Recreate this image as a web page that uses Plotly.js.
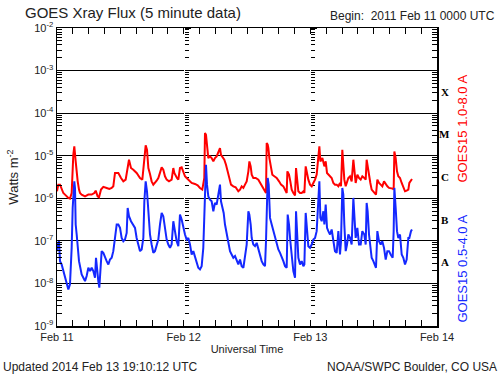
<!DOCTYPE html>
<html>
<head>
<meta charset="utf-8">
<script src="https://cdn.plot.ly/plotly-3.0.1.min.js"></script>
<style>html,body{margin:0;padding:0;background:#fff;}#chart{width:500px;height:375px;}</style>
</head>
<body>
<div id="chart"></div>
<script>
// Hours after 2011 Feb 11 00:00 UTC and flux (W m^-2)
var longHours = [0,0.25,0.57,0.88,1.20,1.52,1.83,2.15,2.46,2.78,3.09,3.28,3.54,3.73,3.92,4.17,4.36,4.67,5.31,5.94,6.57,7.07,7.33,7.70,7.96,8.34,8.78,9.41,9.92,10.36,10.67,10.99,11.62,12.13,12.57,13.01,13.39,13.64,14.02,14.46,15.09,15.73,16.17,16.55,16.80,17.05,17.31,17.62,17.93,18.25,18.56,18.88,19.20,19.51,19.83,20.14,20.46,20.78,21.22,21.72,22.04,22.23,22.48,22.73,22.99,23.30,23.62,23.93,24.25,24.56,24.88,25.51,26.14,26.65,27.09,27.53,27.91,28.04,28.23,28.42,28.67,28.99,29.30,29.62,29.93,30.25,30.56,30.88,31.07,31.32,31.70,32.02,32.33,32.59,32.97,33.41,33.85,34.35,34.68,34.99,35.31,35.62,35.94,36.26,36.45,36.70,36.89,37.20,37.65,38.15,38.47,38.78,39.10,39.41,39.60,39.73,39.92,40.05,40.24,40.55,40.80,41.18,41.62,42.07,42.45,42.89,43.20,43.52,43.65,43.96,44.21,44.47,44.78,45.10,45.29,45.48,45.73,46.05,46.36,46.68,46.87,47.12,47.37,47.62,47.94,48.26,48.57,48.89,49.20,49.52,49.71,49.90,50.28,50.66,50.91,51.16,51.41,51.73,52.04,52.36,52.67,52.99,53.31,53.62,53.81,54.06,54.25,54.44,54.70,54.95,55.20,55.52,55.83,56.15,56.34,56.59,56.91,57.22,57.54,57.85,58.23,58.49,58.67,58.86,59.12,59.37,59.62,59.94,60.25,60.44,60.70,61.01,61.33,61.64,61.96,62.28,62.59,62.91,63.22,63.60,63.79,63.92,64.17,64.42,64.67,64.99,65.31,65.62,65.94,66.25,66.57,66.76,67.07,67.26];
var longFlux = [1.46e-6,2.09e-6,2.09e-6,1.75e-6,1.33e-6,1.22e-6,1.11e-6,1.02e-6,9.8e-7,1.33e-6,1.05e-5,1.66e-5,7.36e-6,3.59e-6,2.5e-6,1.6e-6,1.33e-6,1.22e-6,1.11e-6,1.22e-6,1.22e-6,1.33e-6,1.51e-6,1.11e-6,1.05e-6,1.6e-6,1.85e-6,1.75e-6,1.66e-6,1.75e-6,1.91e-6,3.93e-6,3.93e-6,3.0e-6,2.5e-6,2.74e-6,6.15e-6,8.05e-6,5.14e-6,4.7e-6,3.93e-6,3.0e-6,2.74e-6,1.05e-5,1.75e-5,1.38e-5,5.14e-6,3.72e-6,2.5e-6,2.09e-6,2.29e-6,2.59e-6,3.0e-6,4.3e-6,5.33e-6,4.7e-6,3.28e-6,2.74e-6,2.5e-6,2.74e-6,5.14e-6,3.93e-6,3.28e-6,3.0e-6,2.74e-6,5.14e-6,5.33e-6,4.3e-6,3.28e-6,3.0e-6,2.74e-6,2.29e-6,2.17e-6,2.02e-6,1.75e-6,1.6e-6,3.0e-6,3.4e-5,3.1e-5,1.81e-5,8.81e-6,9.64e-6,8.81e-6,7.36e-6,8.81e-6,9.64e-6,1.26e-5,1.51e-5,1.05e-5,9.64e-6,8.05e-6,6.15e-6,4.3e-6,3.0e-6,2.09e-6,1.91e-6,1.81e-6,1.46e-6,1.6e-6,1.91e-6,1.75e-6,2.09e-6,2.5e-6,4.3e-6,7.36e-6,5.62e-6,3.59e-6,3.0e-6,3.0e-6,2.74e-6,2.29e-6,1.91e-6,1.6e-6,1.46e-6,1.33e-6,1.98e-5,1.81e-5,1.51e-5,8.81e-6,5.14e-6,3.59e-6,3.28e-6,3.0e-6,2.5e-6,2.09e-6,1.91e-6,1.6e-6,1.33e-6,4.3e-6,3.59e-6,2.5e-6,1.6e-6,1.33e-6,1.17e-6,5.14e-6,3.0e-6,1.46e-6,1.33e-6,1.33e-6,1.46e-6,1.33e-6,5.62e-6,3.59e-6,2.74e-6,2.09e-6,1.91e-6,2.29e-6,2.74e-6,3.59e-6,8.81e-6,1.66e-5,7.36e-6,8.81e-6,5.62e-6,7.36e-6,3.93e-6,3.59e-6,3.28e-6,3.0e-6,2.29e-6,2.09e-6,2.09e-6,1.91e-6,2.29e-6,1.91e-6,1.38e-5,6.15e-6,2.74e-6,1.91e-6,2.29e-6,3.0e-6,3.28e-6,2.5e-6,8.05e-6,4.3e-6,2.29e-6,3.59e-6,3.0e-6,2.74e-6,3.28e-6,3.0e-6,2.74e-6,8.05e-6,5.62e-6,3.0e-6,2.29e-6,1.6e-6,1.46e-6,1.33e-6,1.22e-6,2.74e-6,2.29e-6,2.09e-6,1.91e-6,2.5e-6,2.09e-6,1.91e-6,1.75e-6,1.75e-6,1.69e-6,1.6e-6,1.26e-5,8.81e-6,4.3e-6,3.28e-6,3.0e-6,2.29e-6,1.75e-6,1.46e-6,1.51e-6,1.6e-6,2.29e-6,2.74e-6,2.84e-6];

var shortHours = [0,0.13,0.38,0.57,0.88,1.20,1.52,1.83,2.15,2.46,2.65,2.78,2.97,3.09,3.28,3.41,3.54,3.73,3.92,4.17,4.42,4.67,4.99,5.31,5.62,5.94,6.25,6.57,6.88,7.20,7.39,7.64,7.83,8.02,8.21,8.46,8.78,9.10,9.41,9.73,10.04,10.36,10.67,10.99,11.31,11.62,11.94,12.25,12.57,12.88,13.20,13.39,13.64,14.02,14.46,14.78,15.09,15.41,15.73,16.04,16.36,16.55,16.80,17.05,17.31,17.62,17.93,18.25,18.56,18.88,19.20,19.51,19.83,20.14,20.46,20.78,21.09,21.41,21.72,22.04,22.35,22.67,22.99,23.30,23.62,23.93,24.25,24.56,24.88,25.20,25.51,25.83,26.14,26.46,26.77,27.09,27.41,27.72,27.91,28.04,28.23,28.42,28.67,28.99,29.30,29.62,29.93,30.25,30.56,30.88,31.07,31.32,31.58,31.83,32.14,32.46,32.78,33.09,33.41,33.73,34.04,34.36,34.68,34.99,35.31,35.62,35.94,36.26,36.45,36.70,36.89,37.20,37.52,37.84,38.15,38.47,38.78,39.10,39.41,39.60,39.73,39.92,40.11,40.36,40.68,40.99,41.31,41.62,41.94,42.26,42.57,42.89,43.20,43.52,43.71,43.96,44.21,44.47,44.78,45.10,45.29,45.48,45.73,46.05,46.36,46.68,46.87,47.12,47.37,47.62,47.94,48.26,48.57,48.89,49.20,49.52,49.71,49.90,50.15,50.47,50.66,50.91,51.16,51.41,51.73,52.04,52.36,52.67,52.99,53.31,53.62,53.81,54.06,54.25,54.44,54.70,54.95,55.20,55.52,55.83,56.15,56.34,56.59,56.91,57.22,57.54,57.85,58.23,58.49,58.67,58.86,59.12,59.37,59.62,59.94,60.25,60.44,60.70,61.01,61.33,61.64,61.96,62.28,62.59,62.91,63.22,63.60,63.79,63.92,64.17,64.42,64.67,64.99,65.31,65.62,65.94,66.25,66.57,66.76,67.07,67.26];
var shortFlux = [5.73e-8,8.2e-8,9.8e-8,3.34e-8,2.79e-8,1.95e-8,1.49e-8,1.13e-8,7.24e-9,9.5e-9,2.79e-8,6.86e-8,5.93e-7,1.46e-6,2.5e-6,1.75e-6,2.42e-7,1.41e-7,5.73e-8,3.34e-8,2.33e-8,1.63e-8,1.36e-8,1.13e-8,1.49e-8,2.33e-8,1.95e-8,2.33e-8,1.95e-8,1.36e-8,4.0e-8,1.63e-8,1.13e-8,7.94e-9,2.79e-8,5.73e-8,5.24e-8,4.0e-8,3.34e-8,2.79e-8,3.65e-8,4.0e-8,5.73e-8,1.17e-7,2.42e-7,2.42e-7,2.02e-7,1.17e-7,9.8e-8,1.07e-7,1.54e-7,5.93e-7,3.79e-7,2.89e-7,2.42e-7,2.02e-7,1.17e-7,8.2e-8,5.73e-8,6.27e-8,1.17e-7,8.51e-7,2.5e-6,1.46e-6,4.95e-7,1.41e-7,8.2e-8,5.24e-8,5.73e-8,8.2e-8,1.07e-7,2.42e-7,4.53e-7,3.79e-7,1.69e-7,1.07e-7,8.2e-8,6.86e-8,8.2e-8,2.89e-7,1.69e-7,9.8e-8,7.5e-8,4.14e-7,3.16e-7,2.02e-7,1.41e-7,1.07e-7,1.17e-7,8.2e-8,4.79e-8,5.73e-8,4.38e-8,3.34e-8,2.33e-8,2.13e-8,2.55e-8,6.86e-8,4.95e-7,3.59e-6,6.15e-6,2.09e-6,1.11e-6,9.3e-7,8.51e-7,4.95e-7,7.78e-7,7.11e-7,1.11e-6,2.09e-6,8.51e-7,5.93e-7,4.53e-7,2.42e-7,1.41e-7,9.8e-8,5.73e-8,4.79e-8,4.0e-8,4.38e-8,3.34e-8,2.79e-8,3.65e-8,2.55e-8,2.33e-8,4.38e-8,8.2e-8,4.95e-7,4.14e-7,2.42e-7,1.17e-7,8.2e-8,7.5e-8,8.97e-8,6.27e-8,4.79e-8,3.34e-8,2.79e-8,2.55e-8,9.8e-8,1.02e-6,3.0e-6,2.09e-6,3.46e-7,2.42e-7,1.69e-7,1.17e-7,8.97e-8,6.27e-8,5.24e-8,4.38e-8,3.34e-8,2.55e-8,2.33e-8,4.14e-7,2.42e-7,9.8e-8,4.0e-8,1.95e-8,1.36e-8,4.95e-7,1.69e-7,4.0e-8,2.79e-8,3.34e-8,2.55e-8,2.79e-8,4.53e-7,1.69e-7,7.5e-8,6.86e-8,8.2e-8,1.07e-7,1.17e-7,1.69e-7,8.51e-7,2.5e-6,3.46e-7,2.89e-7,4.95e-7,2.42e-7,7.11e-7,2.02e-7,1.69e-7,1.41e-7,1.85e-7,9.8e-8,5.73e-8,5.24e-8,1.69e-7,4.79e-8,9.8e-8,1.75e-6,1.22e-6,2.42e-7,5.73e-8,8.2e-8,1.41e-7,1.17e-7,8.2e-8,1.02e-6,3.46e-7,1.17e-7,2.02e-7,8.2e-8,8.2e-8,1.69e-7,1.41e-7,8.2e-8,7.78e-7,4.95e-7,1.41e-7,6.86e-8,4.0e-8,3.34e-8,2.79e-8,2.33e-8,1.69e-7,9.8e-8,8.2e-8,9.8e-8,6.86e-8,3.65e-8,5.73e-8,5.73e-8,4.79e-8,4.0e-8,1.69e-7,1.75e-6,5.93e-7,1.69e-7,1.17e-7,1.41e-7,4.79e-8,4.0e-8,2.79e-8,3.65e-8,1.17e-7,1.17e-7,1.69e-7,1.85e-7];

var dayTicks = ['2011-02-11','2011-02-12','2011-02-13','2011-02-14'];
var dayLabels = ['Feb 11','Feb 12','Feb 13','Feb 14'];
var decadeTicks = [1e-9,1e-8,1e-7,1e-6,1e-5,1e-4,1e-3,1e-2];
var decadeLabels = ['10<sup>-9</sup>','10<sup>-8</sup>','10<sup>-7</sup>','10<sup>-6</sup>','10<sup>-5</sup>','10<sup>-4</sup>','10<sup>-3</sup>','10<sup>-2</sup>'];
var flareClasses = ['A','B','C','M','X'];
var flareClassLevels = [1e-8,1e-7,1e-6,1e-5,1e-4];
var longLabel = 'GOES15 1.0-8.0 A';
var shortLabel = 'GOES15 0.5-4.0 A';

var T0 = Date.UTC(2011,1,11);
function toDate(h){ return new Date(T0 + h*3600000).toISOString().replace('T',' ').slice(0,19); }

var minorVals = [];
for (var d=-9; d<-2; d++) for (var k=2; k<10; k++) minorVals.push(k*Math.pow(10,d));

var FONT = 'Liberation Sans, Arial, sans-serif';
var RED = '#ff0000', BLUE = '#1428ff';

var traces = [
  {x: longHours.map(toDate), y: longFlux, type:'scatter', mode:'lines', line:{color:RED, width:2}, hoverinfo:'skip', showlegend:false, name:longLabel},
  {x: shortHours.map(toDate), y: shortFlux, type:'scatter', mode:'lines', line:{color:BLUE, width:2}, hoverinfo:'skip', showlegend:false, name:shortLabel}
];

// Day-boundary tick columns (like the original's internal y-axes)
function dayAxis(pos){
  return {type:'log', range:[-9,-2], overlaying:'y', anchor:'free', position:pos, side:'right',
    showline:true, linecolor:'#ffffff', linewidth:1, layer:'below traces',
    showgrid:false, zeroline:false, showticklabels:false,
    tickmode:'array', tickvals:decadeTicks, ticks:'outside', ticklen:6, tickcolor:'#000', tickwidth:1,
    minor:{tickmode:'array', tickvals:minorVals, ticks:'outside', ticklen:4, tickcolor:'#000', tickwidth:1}};
}

var annotations = [];
for (var i=0;i<flareClasses.length;i++){
  annotations.push({xref:'paper', yref:'y', x:1.021, y:Math.log10(flareClassLevels[i])+0.5, text:flareClasses[i], showarrow:false,
    font:{family:'Liberation Serif, DejaVu Serif, serif', size:11, color:'#000', weight:'bold'}, xanchor:'center', yanchor:'middle'});
}
annotations.push({xref:'paper', yref:'paper', x:1.066, y:0.663, text:longLabel, textangle:-90, showarrow:false, font:{family:FONT, size:13, color:RED}, xanchor:'center', yanchor:'middle'});
annotations.push({xref:'paper', yref:'paper', x:1.066, y:0.193, text:shortLabel, textangle:-90, showarrow:false, font:{family:FONT, size:13, color:BLUE}, xanchor:'center', yanchor:'middle'});
annotations.push({xref:'paper', yref:'paper', x:(497-57)/380, y:1+(28-16)/298, text:'Begin:\u00a0\u00a02011 Feb 11 0000 UTC', showarrow:false, font:{family:FONT, size:12, color:'#222'}, xanchor:'right', yanchor:'middle'});
annotations.push({xref:'paper', yref:'paper', x:(1-57)/380, y:-(367-326)/298, text:'Updated 2014 Feb 13 19:10:12 UTC', showarrow:false, font:{family:FONT, size:12, color:'#222'}, xanchor:'left', yanchor:'middle'});
annotations.push({xref:'paper', yref:'paper', x:(499-57)/380, y:-(367-326)/298, text:'NOAA/SWPC Boulder, CO USA', showarrow:false, font:{family:FONT, size:12, color:'#222'}, xanchor:'right', yanchor:'middle'});

var layout = {
  width:500, height:375,
  margin:{l:57, r:63, t:28, b:49, pad:0},
  paper_bgcolor:'#fff', plot_bgcolor:'#fff',
  font:{family:FONT, size:11, color:'#222'},
  showlegend:false,
  title:{text:'GOES Xray Flux (5 minute data)', x:25/500, xanchor:'left', xref:'container', y:1-13/375, yanchor:'middle', yref:'container', font:{family:FONT, size:15, color:'#222'}},
  xaxis:{type:'date', range:['2011-02-11 00:00','2011-02-14 00:00'], tickmode:'array', tickvals:dayTicks, ticktext:dayLabels,
    ticks:'inside', ticklen:6, tickcolor:'#000', showline:true, linecolor:'#000', linewidth:1.5, mirror:'allticks',
    showgrid:false, zeroline:false, tickfont:{family:FONT, size:11, color:'#222'},
    minor:{dtick:3*3600000, ticks:'inside', ticklen:4, tickcolor:'#000', tickwidth:1},
    title:{text:'Universal Time', font:{family:FONT, size:11, color:'#222'}, standoff:3}},
  yaxis:{type:'log', range:[-9,-2], tickmode:'array', tickvals:decadeTicks, ticktext:decadeLabels,
    ticks:'inside', ticklen:9, tickcolor:'#000', showline:true, linecolor:'#000', linewidth:1.5, mirror:'allticks',
    showgrid:true, gridcolor:'#000', gridwidth:1.2, zeroline:false, tickfont:{family:FONT, size:11, color:'#222'},
    minor:{tickmode:'array', tickvals:minorVals, ticks:'inside', ticklen:5, tickcolor:'#000', tickwidth:1},
    title:{text:'Watts m<sup>-2</sup>', font:{family:FONT, size:13, color:'#222'}, standoff:12}},
  yaxis2: dayAxis(1/3),
  yaxis3: dayAxis(2/3),
  annotations:annotations
};
traces.push({x:[], y:[], yaxis:'y2', type:'scatter', showlegend:false, hoverinfo:'skip'});
traces.push({x:[], y:[], yaxis:'y3', type:'scatter', showlegend:false, hoverinfo:'skip'});

Plotly.newPlot('chart', traces, layout, {staticPlot:true, displayModeBar:false});
</script>
</body>
</html>
